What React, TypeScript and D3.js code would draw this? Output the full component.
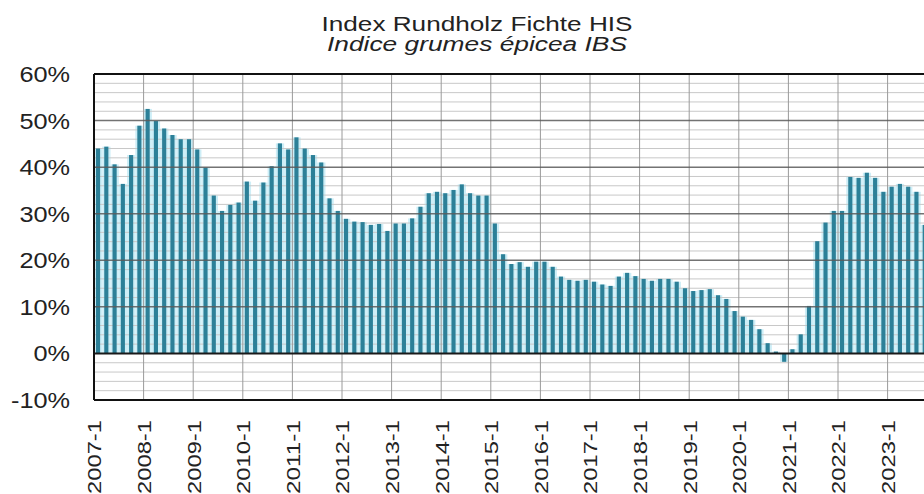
import React from "react";
import * as d3 from "d3";

const title = "Index Rundholz Fichte HIS";
const subtitle = "Indice grumes épicea IBS";

const years = d3.range(2007, 2025);
const periodsPerYear = [1, 2, 3, 4, 5, 6];
const categories: string[] = years.flatMap((y) => periodsPerYear.map((p) => `${y}-${p}`));

// Index values (%), bi-monthly, from 2007-1
const values: number[] = [
  44.0, 44.4, 40.6, 36.4, 42.6, 48.9,
  52.5, 49.9, 48.3, 46.9, 46.0, 46.0,
  43.8, 39.9, 33.9, 30.6, 31.9, 32.4,
  36.9, 32.8, 36.7, 40.2, 45.1, 43.8,
  46.4, 44.0, 42.6, 41.0, 33.3, 30.6,
  28.9, 28.3, 28.2, 27.6, 27.8, 26.3,
  27.9, 27.9, 29.0, 31.5, 34.4, 34.7,
  34.4, 35.1, 36.3, 34.4, 33.9, 33.9,
  27.9, 21.3, 19.2, 19.6, 18.6, 19.7,
  19.7, 18.6, 16.5, 15.8, 15.6, 15.8,
  15.4, 14.8, 14.5, 16.5, 17.3, 16.6,
  16.0, 15.6, 16.0, 16.0, 15.4, 14.0,
  13.4, 13.6, 13.8, 12.5, 11.7, 9.1,
  7.9, 7.2, 5.2, 2.2, 0.4, -1.8,
  0.9, 4.1, 10.2, 24.1, 28.1, 30.6,
  30.6, 37.9, 37.7, 38.8, 37.7, 34.7,
  35.8, 36.4, 35.8, 34.7, 27.6,
];

const yTicks = [60, 50, 40, 30, 20, 10, 0, -10];
const minorTicks = d3.range(-10, 61, 2);
const labelYears = d3.range(2007, 2024);
const yearLabels = labelYears.map((y) => `${y}-1`);
const gridYears = years.map((y) => `${y}-1`);

const W = 924;
const H = 494;
const plotLeft = 94;
const plotTop = 74;
const plotBottom = 400;
const catW = 49.6 / 6;
const plotRight = plotLeft + catW * categories.length;

const FONT = "'Liberation Sans', Arial, Helvetica, sans-serif";

export default function App() {
  const x = d3.scaleBand<string>().domain(categories).range([plotLeft, plotRight]).paddingInner(0).paddingOuter(0);
  const y = d3.scaleLinear().domain([-10, 60]).range([plotBottom, plotTop]);
  const data = values.map((v, i) => ({ cat: categories[i], v }));
  const bw = x.bandwidth();
  const darkOff = bw * 0.24;
  const darkW = bw * 0.5;

  return (
    <div style={{ position: "absolute", left: 0, top: 0 }}>
      <svg width={W} height={H} style={{ display: "block", background: "#fff" }}>
        {/* cyan fill */}
        {data.map((d) => (
          <rect
            key={"c" + d.cat}
            x={x(d.cat)!}
            width={bw}
            y={Math.min(y(d.v), y(0))}
            height={Math.abs(y(d.v) - y(0))}
            fill="#cdeef7"
          />
        ))}
        {/* minor gridlines */}
        {minorTicks
          .filter((t) => t % 10 !== 0)
          .map((t) => (
            <line key={"m" + t} x1={plotLeft} x2={plotRight} y1={y(t)} y2={y(t)} stroke="#c8c8c8" strokeWidth={1} />
          ))}
        {/* vertical gridlines */}
        {gridYears.map((lab, k) =>
          k === 0 ? null : (
            <line key={"v" + lab} x1={x(lab)!} x2={x(lab)!} y1={plotTop} y2={plotBottom} stroke="#9a9a9a" strokeWidth={1} />
          )
        )}
        {/* dark bars */}
        {data.map((d) => (
          <rect
            key={"b" + d.cat}
            x={x(d.cat)! + darkOff}
            width={darkW}
            y={Math.min(y(d.v), y(0))}
            height={Math.abs(y(d.v) - y(0))}
            fill="#2c8098"
          />
        ))}
        {/* major gridlines */}
        {yTicks
          .filter((t) => t !== 0 && t !== 60 && t !== -10)
          .map((t) => (
            <line key={"M" + t} x1={plotLeft} x2={plotRight} y1={y(t)} y2={y(t)} stroke="#5a5a5a" strokeWidth={1.5} strokeOpacity={0.85} />
          ))}
        <line x1={plotLeft} x2={plotRight} y1={y(0)} y2={y(0)} stroke="#1a1a1a" strokeWidth={2} />
        {/* frame */}
        <line x1={plotLeft} x2={plotRight} y1={plotTop} y2={plotTop} stroke="#111" strokeWidth={2} />
        <line x1={plotLeft} x2={plotRight} y1={plotBottom} y2={plotBottom} stroke="#111" strokeWidth={2} />
        <line x1={plotLeft} x2={plotLeft} y1={plotTop} y2={plotBottom} stroke="#111" strokeWidth={2} />

        {/* y labels */}
        {yTicks.map((t) => (
          <text
            key={"yl" + t}
            transform={`translate(70,${y(t)}) scale(1.15,1)`}
            textAnchor="end"
            dy="0.36em"
            fontFamily={FONT}
            fontSize={22}
            fill="#222"
          >
            {`${t}%`}
          </text>
        ))}

        {/* x labels */}
        {yearLabels.map((lab) => (
          <text
            key={"xl" + lab}
            transform={`translate(${x(lab)! + 1},420) rotate(-90)`}
            textAnchor="end"
            dy="0.36em"
            fontFamily={FONT}
            fontSize={18}
            fill="#222"
            textLength={74}
            lengthAdjust="spacingAndGlyphs"
          >
            {lab}
          </text>
        ))}

        {/* titles */}
        <text x={477} y={31} textAnchor="middle" fontFamily={FONT} fontSize={20} fill="#222" textLength={311} lengthAdjust="spacingAndGlyphs">
          {title}
        </text>
        <text x={477} y={51} textAnchor="middle" fontFamily={FONT} fontSize={20} fontStyle="italic" fill="#222" textLength={300} lengthAdjust="spacingAndGlyphs">
          {subtitle}
        </text>
      </svg>
    </div>
  );
}
